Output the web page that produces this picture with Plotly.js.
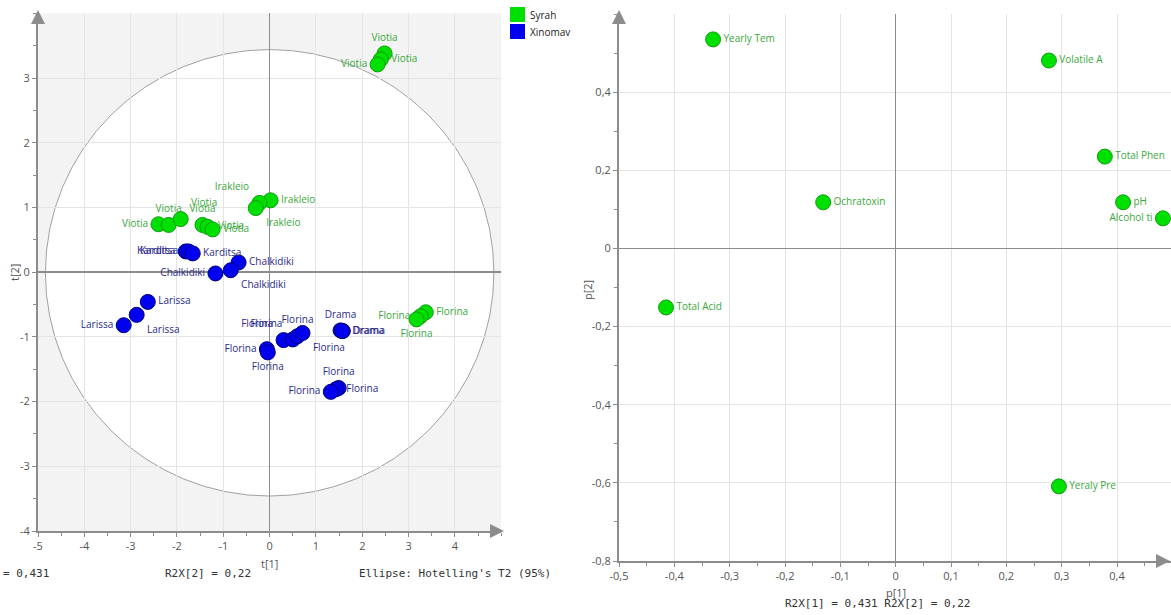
<!DOCTYPE html>
<html><head><meta charset="utf-8">
<script src="https://cdn.plot.ly/plotly-3.0.1.min.js"></script>
<style>html,body{margin:0;padding:0;background:#fff}#chart{width:1171px;height:615px}</style>
</head><body><div id="chart"></div>
<script>
// ---- Score plot (t[1] vs t[2]) ----
const syrahT1 = [2.48, 2.40, 2.33, 0.02, -0.22, -0.30, -2.40, -2.18, -1.92, -1.45, -1.34, -1.23, 3.37, 3.26, 3.17];
const syrahT2 = [3.38, 3.29, 3.21, 1.11, 1.07, 0.99, 0.74, 0.73, 0.82, 0.73, 0.70, 0.66, -0.62, -0.68, -0.73];
const syrahLabels = ["Viotia","Viotia","Viotia","Irakleio","Irakleio","Irakleio","Viotia","Viotia","Viotia","Viotia","Viotia","Viotia","Florina","Florina","Florina"];
const syrahPos = ["top center","middle right","middle left","middle right","top left","bottom right","middle left","top center","top right","top center","middle right","middle right","middle right","middle left","bottom center"];

const xinoT1 = [-1.81, -1.75, -1.66, -0.67, -0.84, -1.17, -2.63, -2.87, -3.15, -0.06, -0.04, 0.30, 0.50, 0.60, 0.71, 1.53, 1.58, 1.56, 1.49, 1.43, 1.32];
const xinoT2 = [0.32, 0.32, 0.29, 0.15, 0.03, -0.02, -0.46, -0.66, -0.82, -1.19, -1.24, -1.05, -1.04, -0.99, -0.94, -0.90, -0.91, -0.91, -1.79, -1.81, -1.85];
const xinoLabels = ["Karditsa","Karditsa","Karditsa","Chalkidiki","Chalkidiki","Chalkidiki","Larissa","Larissa","Larissa","Florina","Florina","Florina","Florina","Florina","Florina","Drama","Drama","Drama","Florina","Florina","Florina"];
const xinoPos = ["middle left","middle left","middle right","middle right","bottom right","middle left","middle right","bottom right","middle left","middle left","bottom center","top left","top left","top center","bottom right","top center","middle right","middle right","top center","middle right","middle left"];

// ---- Loading plot (p[1] vs p[2]) ----
const varNames = ["Yearly Tem","Volatile A","Total Phen","pH","Alcohol ti","Ochratoxin","Total Acid","Yeraly Pre"];
const p1 = [-0.330, 0.277, 0.378, 0.411, 0.483, -0.131, -0.415, 0.295];
const p2 = [0.535, 0.481, 0.235, 0.118, 0.077, 0.118, -0.151, -0.609];
const varPos = ["middle right","middle right","middle right","middle right","middle left","middle right","middle right","middle right"];

// tick labels
const t1Ticks = [-5,-4,-3,-2,-1,0,1,2,3,4];
const t2Ticks = [-4,-3,-2,-1,0,1,2,3];
const p1Ticks = [-0.5,-0.4,-0.3,-0.2,-0.1,0,0.1,0.2,0.3,0.4];
const p1TickText = ["-0,5","-0,4","-0,3","-0,2","-0,1","0","0,1","0,2","0,3","0,4"];
const p2Ticks = [-0.8,-0.6,-0.4,-0.2,0,0.2,0.4];
const p2TickText = ["-0,8","-0,6","-0,4","-0,2","0","0,2","0,4"];

const groups = ["Syrah","Xinomav"];
const W = 1171, H = 615;
const px = v => v / W, py = v => 1 - v / H;

const GREEN = "#00e000", GREEN_LINE = "#109a10", GREEN_TXT = "#3aa83a";
const BLUE = "#0000ee", BLUE_LINE = "#00007a", BLUE_TXT = "#2a2a8a";
const AX = "#8c8c8c", GRID = "#e4e4e4", TICKTXT = "#555555";
const FONT = "Open Sans, Noto Sans, sans-serif";
const MONO = "DejaVu Sans Mono, monospace";

const traces = [
  {x: syrahT1, y: syrahT2, text: syrahLabels, textposition: syrahPos, mode: "markers+text", type: "scatter",
   name: groups[0], xaxis: "x", yaxis: "y", cliponaxis: false,
   marker: {size: 15, color: GREEN, line: {color: GREEN_LINE, width: 1}},
   textfont: {family: FONT, size: 10, color: GREEN_TXT}},
  {x: xinoT1, y: xinoT2, text: xinoLabels, textposition: xinoPos, mode: "markers+text", type: "scatter",
   name: groups[1], xaxis: "x", yaxis: "y", cliponaxis: false,
   marker: {size: 15, color: BLUE, line: {color: BLUE_LINE, width: 1}},
   textfont: {family: FONT, size: 10, color: BLUE_TXT}},
  {x: p1, y: p2, text: varNames, textposition: varPos, mode: "markers+text", type: "scatter",
   name: "loadings", xaxis: "x2", yaxis: "y2", cliponaxis: false,
   marker: {size: 15, color: GREEN, line: {color: GREEN_LINE, width: 1}},
   textfont: {family: FONT, size: 10, color: GREEN_TXT}}
];

function axisBase(extra) {
  return Object.assign({
    showgrid: true, gridcolor: GRID, gridwidth: 1,
    zeroline: true, zerolinecolor: AX, zerolinewidth: 1.5,
    showline: true, linecolor: AX, linewidth: 2,
    ticks: "outside", ticklen: 4, tickcolor: AX, tickwidth: 1,
    tickfont: {family: FONT, size: 11, color: TICKTXT},
    fixedrange: true
  }, extra);
}

const layout = {
  width: W, height: H,
  margin: {l: 0, r: 0, t: 0, b: 0},
  paper_bgcolor: "#ffffff", plot_bgcolor: "rgba(0,0,0,0)",
  showlegend: false,
  font: {family: FONT},
  xaxis: axisBase({domain: [px(38), px(501.3)], range: [-5, 5], tickmode: "array", tickvals: t1Ticks, ticktext: t1Ticks.map(String),
    minor: {dtick: 0.5, ticklen: 3, tickcolor: AX, showgrid: false}, anchor: "y"}),
  yaxis: axisBase({domain: [py(531), py(13.3)], range: [-4, 4], tickmode: "array", tickvals: t2Ticks, ticktext: t2Ticks.map(String),
    minor: {dtick: 0.5, ticklen: 3, tickcolor: AX, showgrid: false}, anchor: "x"}),
  xaxis2: axisBase({domain: [px(619), 1], range: [-0.5, 0.4976], tickmode: "array", tickvals: p1Ticks, ticktext: p1TickText,
    minor: {dtick: 0.05, ticklen: 3, tickcolor: AX, showgrid: false}, anchor: "y2"}),
  yaxis2: axisBase({domain: [py(561), py(14)], range: [-0.8, 0.6], tickmode: "array", tickvals: p2Ticks, ticktext: p2TickText,
    minor: {dtick: 0.1, ticklen: 3, tickcolor: AX, showgrid: false}, anchor: "x2"}),
  shapes: [
    {type: "rect", xref: "x domain", yref: "y domain", x0: 0, x1: 1, y0: 0, y1: 1, fillcolor: "#f3f3f3", line: {width: 0}, layer: "below"},
    {type: "circle", xref: "x", yref: "y", x0: -4.84, x1: 4.84, y0: -3.46, y1: 3.44, fillcolor: "#ffffff", line: {color: "#a0a0a0", width: 1}, layer: "below"},
    {type: "rect", xref: "paper", yref: "paper", x0: px(510), x1: px(525), y0: py(22), y1: py(7), fillcolor: GREEN, line: {width: 0}},
    {type: "rect", xref: "paper", yref: "paper", x0: px(510), x1: px(525), y0: py(39), y1: py(24), fillcolor: BLUE, line: {width: 0}}
  ],
  annotations: [
    {xref: "paper", yref: "paper", x: px(528), y: py(15), text: groups[0], showarrow: false, xanchor: "left", yanchor: "middle", font: {family: FONT, size: 10, color: "#222"}},
    {xref: "paper", yref: "paper", x: px(528), y: py(32), text: groups[1], showarrow: false, xanchor: "left", yanchor: "middle", font: {family: FONT, size: 10, color: "#222"}},
    {xref: "paper", yref: "paper", x: px(269), y: py(563), text: "t[1]", showarrow: false, xanchor: "center", yanchor: "middle", font: {family: FONT, size: 11, color: TICKTXT}},
    {xref: "paper", yref: "paper", x: px(14), y: py(272), text: "t[2]", textangle: -90, showarrow: false, xanchor: "center", yanchor: "middle", font: {family: FONT, size: 11, color: TICKTXT}},
    {xref: "paper", yref: "paper", x: px(896), y: py(592), text: "p[1]", showarrow: false, xanchor: "center", yanchor: "middle", font: {family: FONT, size: 11, color: TICKTXT}},
    {xref: "paper", yref: "paper", x: px(587), y: py(290), text: "p[2]", textangle: -90, showarrow: false, xanchor: "center", yanchor: "middle", font: {family: FONT, size: 11, color: TICKTXT}},
    {xref: "paper", yref: "paper", x: px(1), y: py(573), text: "= 0,431", showarrow: false, xanchor: "left", yanchor: "middle", font: {family: MONO, size: 11, color: "#333"}},
    {xref: "paper", yref: "paper", x: px(163), y: py(573), text: "R2X[2] = 0,22", showarrow: false, xanchor: "left", yanchor: "middle", font: {family: MONO, size: 11, color: "#333"}},
    {xref: "paper", yref: "paper", x: px(357), y: py(573), text: "Ellipse: Hotelling's T2 (95%)", showarrow: false, xanchor: "left", yanchor: "middle", font: {family: MONO, size: 11, color: "#333"}},
    {xref: "paper", yref: "paper", x: px(783), y: py(603), text: "R2X[1] = 0,431 R2X[2] = 0,22", showarrow: false, xanchor: "left", yanchor: "middle", font: {family: MONO, size: 11, color: "#333"}},
    // axis arrows
    {xref: "paper", yref: "paper", x: px(38), y: py(10), ax: 0, ay: 14, text: "", showarrow: true, arrowhead: 2, arrowsize: 1.4, arrowwidth: 2, arrowcolor: AX},
    {xref: "paper", yref: "paper", x: px(504), y: py(531), ax: -14, ay: 0, text: "", showarrow: true, arrowhead: 2, arrowsize: 1.4, arrowwidth: 2, arrowcolor: AX},
    {xref: "paper", yref: "paper", x: px(619), y: py(10), ax: 0, ay: 14, text: "", showarrow: true, arrowhead: 2, arrowsize: 1.4, arrowwidth: 2, arrowcolor: AX},
    {xref: "paper", yref: "paper", x: px(1170), y: py(561), ax: -14, ay: 0, text: "", showarrow: true, arrowhead: 2, arrowsize: 1.4, arrowwidth: 2, arrowcolor: AX}
  ]
};

Plotly.newPlot("chart", traces, layout, {staticPlot: true, displayModeBar: false});
</script>
</body></html>
